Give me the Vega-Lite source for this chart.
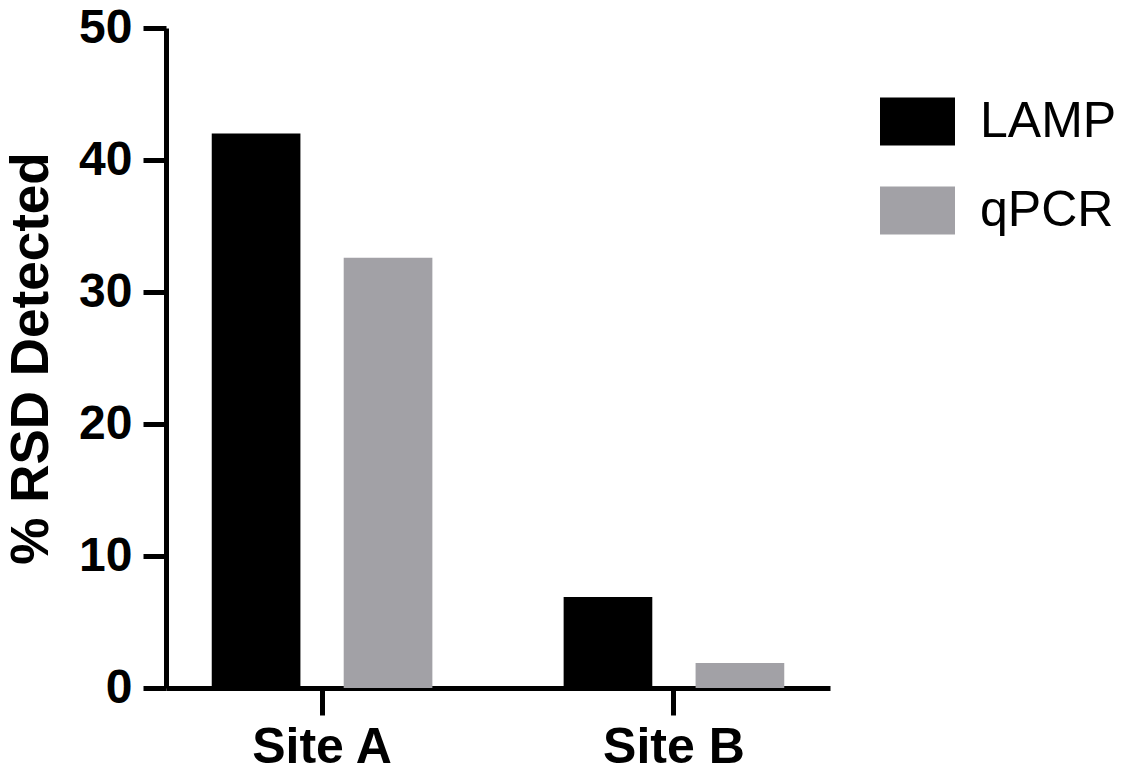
{
  "$schema": "https://vega.github.io/schema/vega-lite/v6.json",
  "autosize": {"type": "none"},
  "padding": {"left": 166, "top": 28, "right": 306, "bottom": 88},
  "width": 664,
  "height": 660,
  "background": "white",
  "data": {"values": [
    {"site": "Site A", "method": "LAMP", "value": 42.0},
    {"site": "Site A", "method": "qPCR", "value": 32.6},
    {"site": "Site B", "method": "LAMP", "value": 6.9},
    {"site": "Site B", "method": "qPCR", "value": 1.9}
  ]},
  "mark": {"type": "bar"},
  "encoding": {
    "x": {
      "field": "site", "type": "nominal",
      "scale": {"paddingInner": 0.373, "paddingOuter": 0.13},
      "axis": {
        "title": null, "labelAngle": 0,
        "labelFont": "Liberation Sans", "labelFontWeight": "bold", "labelFontSize": 50, "labelColor": "black",
        "labelPadding": 7,
        "domainColor": "black", "domainWidth": 5,
        "tickColor": "black", "tickWidth": 5, "tickSize": 27
      }
    },
    "xOffset": {"field": "method", "type": "nominal", "scale": {"paddingInner": 0.328, "paddingOuter": 0}},
    "y": {
      "field": "value", "type": "quantitative",
      "scale": {"domain": [0, 50], "nice": false},
      "axis": {
        "title": "% RSD Detected", "values": [0, 10, 20, 30, 40, 50], "grid": false,
        "titleFont": "Liberation Sans", "titleFontWeight": "bold", "titleFontSize": 53, "titleColor": "black",
        "titlePadding": 20,
        "labelFont": "Liberation Sans", "labelFontWeight": "bold", "labelFontSize": 48, "labelColor": "black",
        "labelPadding": 11,
        "domainColor": "black", "domainWidth": 5,
        "tickColor": "black", "tickWidth": 5, "tickSize": 23
      }
    },
    "color": {
      "field": "method", "type": "nominal",
      "scale": {"domain": ["LAMP", "qPCR"], "range": ["#000000", "#a2a1a6"]},
      "legend": {
        "title": null, "orient": "none", "legendX": 714, "legendY": 56,
        "padding": 0,
        "symbolType": "M-1,-0.64H1V0.64H-1Z", "symbolSize": 5625, "symbolStrokeWidth": 0,
        "symbolOpacity": 1,
        "labelFont": "Liberation Sans", "labelFontSize": 50, "labelColor": "black", "labelOffset": 25,
        "rowPadding": 26
      }
    }
  },
  "config": {"view": {"stroke": null}}
}
